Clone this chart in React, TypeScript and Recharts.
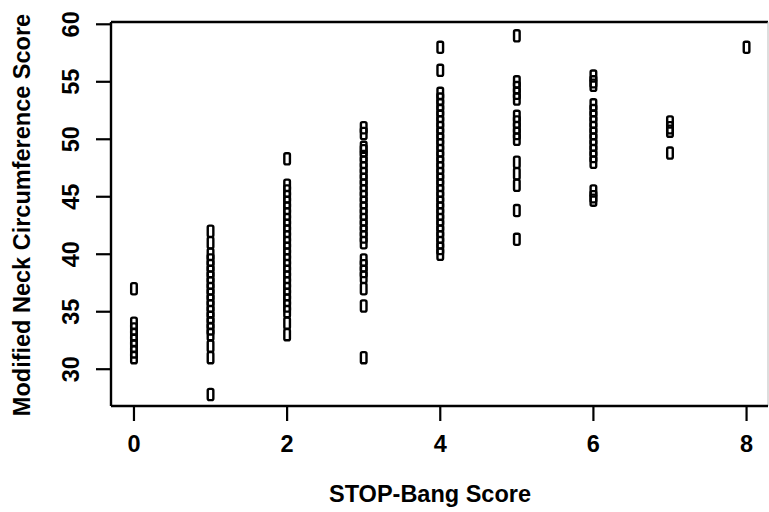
import { ScatterChart, Scatter, XAxis, YAxis, ReferenceLine } from 'recharts';

// Modified neck circumference score per STOP-Bang score (0..8)
const stopBang0 = [37, 34, 33.5, 33, 32.5, 32, 31.5, 31];
const stopBang1 = [42, 41, 40, 39.5, 39, 38.5, 38, 37.5, 37, 36.5, 36, 35.5, 35, 34.5, 34, 33.5, 33, 32, 31, 27.8];
const stopBang2 = [48.3, 46, 45.5, 45, 44.5, 44, 43.5, 43, 42.5, 42, 41.5, 41, 40.5, 40, 39.5, 39, 38.5, 38, 37.5, 37, 36.5, 36, 35.5, 35, 34, 33];
const stopBang3 = [51, 50.5, 49.3, 49, 48.5, 48, 47.5, 47, 46.5, 46, 45.5, 45, 44.5, 44, 43.5, 43, 42.5, 42, 41.5, 41, 39.5, 39, 38.5, 38, 37, 35.5, 31];
const stopBang4 = [58, 56, 54, 53.5, 53, 52.5, 52, 51.5, 51, 50.5, 50, 49.5, 49, 48.5, 48, 47.5, 47, 46.5, 46, 45.5, 45, 44.5, 44, 43.5, 43, 42.5, 42, 41.5, 41, 40.5, 40];
const stopBang5 = [59, 55, 54.5, 54, 53.5, 52, 51.5, 51, 50.5, 50, 48, 47, 46, 43.8, 41.3];
const stopBang6 = [55.5, 55, 54.7, 53, 52.5, 52, 51.5, 51, 50.5, 50, 49.5, 49, 48.5, 48, 45.5, 45, 44.7];
const stopBang7 = [51.5, 51, 50.7, 48.8];
const stopBang8 = [58];

const xTicks = [0, 2, 4, 6, 8];
const yTicks = [30, 35, 40, 45, 50, 55, 60];

const columns = [stopBang0, stopBang1, stopBang2, stopBang3, stopBang4, stopBang5, stopBang6, stopBang7, stopBang8];
const points = columns.flatMap((vals, i) => vals.map((v) => ({ x: i, y: v })));

const FONT = '"Liberation Sans", Arial, Helvetica, sans-serif';
const FS = 23.5;

const Marker = (props: any) => {
  const { cx, cy } = props;
  if (cx == null || cy == null) return null;
  return (
    <rect
      x={cx - 2.8}
      y={cy - 5.6}
      width={5.6}
      height={11.2}
      rx={1.6}
      fill="none"
      stroke="#000"
      strokeWidth={2.4}
    />
  );
};

const XTick = (props: any) => {
  const { x, payload } = props;
  return (
    <text x={x} y={444} textAnchor="middle" dominantBaseline="central" fontFamily={FONT} fontWeight="bold" fontSize={FS} fill="#000">
      {payload.value}
    </text>
  );
};

const YTick = (props: any) => {
  const { y, payload } = props;
  const cx = 71;
  return (
    <text x={cx} y={y} transform={`rotate(-90, ${cx}, ${y})`} textAnchor="middle" dominantBaseline="central" fontFamily={FONT} fontWeight="bold" fontSize={FS} fill="#000">
      {payload.value}
    </text>
  );
};

export default function App() {
  return (
    <div style={{ width: 769, height: 512, background: '#fff' }}>
      <style>{'body{margin:0}'}</style>
      <ScatterChart width={769} height={512} margin={{ top: 22, right: 1, left: 0, bottom: 0 }}>
        <XAxis
          type="number"
          dataKey="x"
          domain={[-0.3, 8.28]}
          ticks={xTicks}
          allowDataOverflow
          axisLine={{ stroke: '#000', strokeWidth: 2.4 }}
          tickLine={{ stroke: '#000', strokeWidth: 2.2 }}
          tickSize={15}
          height={106}
          tick={<XTick />}
          label={{
            content: () => (
              <text x={430} y={494} textAnchor="middle" dominantBaseline="central" fontFamily={FONT} fontWeight="bold" fontSize={FS} fill="#000">
                STOP-Bang Score
              </text>
            ),
          }}
        />
        <YAxis
          type="number"
          dataKey="y"
          domain={[26.8, 60.2]}
          ticks={yTicks}
          allowDataOverflow
          axisLine={{ stroke: '#000', strokeWidth: 2.4 }}
          tickLine={{ stroke: '#000', strokeWidth: 2.2 }}
          tickSize={15}
          width={111}
          tick={<YTick />}
          label={{
            content: () => (
              <text x={22} y={215} transform="rotate(-90, 22, 215)" textAnchor="middle" dominantBaseline="central" fontFamily={FONT} fontWeight="bold" fontSize={FS} fill="#000">
                Modified Neck Circumference Score
              </text>
            ),
          }}
        />
        <ReferenceLine y={60.2} stroke="#000" strokeWidth={2.4} />
        <ReferenceLine x={8.28} stroke="#bbb" strokeWidth={1} />
        <Scatter data={points} shape={<Marker />} isAnimationActive={false} />
      </ScatterChart>
    </div>
  );
}
